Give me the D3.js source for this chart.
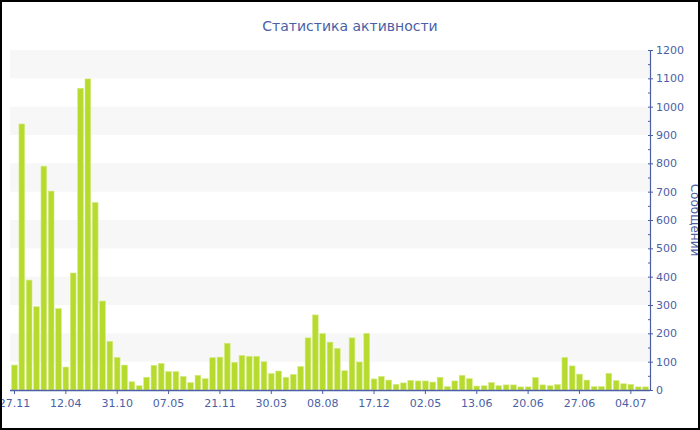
<!DOCTYPE html>
<html><head><meta charset="utf-8">
<script src="https://cdn.jsdelivr.net/npm/d3@7"></script>
<style>body{margin:0;background:#fff}svg{display:block;font-family:"DejaVu Sans",Verdana,sans-serif}</style>
</head><body>
<svg id="c" width="700" height="430"></svg>
<script>
const titleText = "Статистика активности";
const yTitle = "Сообщений";
const values = [88,939,388,294,790,702,287,81,413,1065,1098,662,314,172,115,88,29,15,45,87,94,65,65,48,26,52,
  40,114,116,165,98,122,119,119,100,58,67,45,55,83,184,265,199,169,147,68,184,99,200,39,48,35,20,
  25,34,32,32,28,45,12,32,52,40,14,15,26,15,18,18,11,11,44,18,15,19,115,85,56,35,12,12,59,33,22,20,11,11];
const categories = d3.range(values.length);
const tickIdx = [0,7,14,21,28,35,42,49,56,63,70,77,84];
const tickLabels = ["27.11","12.04","31.10","07.05","21.11","30.03","08.08","17.12","02.05","13.06","20.06","27.06","04.07"];
const yTicks = [0,100,200,300,400,500,600,700,800,900,1000,1100,1200];
const yMinor = [50,150,250,350,450,550,650,750,850,950,1050,1150];

const svg = d3.select("#c");
const L = 10, R = 650, T = 50, B = 390;
const blue = "#4a5fa6";
const x = d3.scaleBand().domain(categories).range([L, R]).padding(0.22);
const y = d3.scaleLinear().domain([0, 1200]).range([B, T]);

// bands
const bands = d3.range(100, 1200, 200);
svg.selectAll("rect.band").data(bands).enter().append("rect")
  .attr("x", L).attr("width", R - L)
  .attr("y", d => y(d + 100)).attr("height", d => y(d) - y(d + 100))
  .attr("fill", "#f7f7f7");

// bars
svg.selectAll("rect.bar").data(values).enter().append("rect")
  .attr("x", (d, i) => x(categories[i])).attr("width", x.bandwidth())
  .attr("y", d => y(d)).attr("height", d => B - y(d))
  .attr("fill", "#b6da2e").attr("stroke", "#d5ec83").attr("stroke-width", 0.6);

// x axis
const xa = svg.append("g").attr("transform", `translate(0,${B})`)
  .call(d3.axisBottom(x).tickValues(tickIdx).tickFormat((d, i) => tickLabels[i]).tickSize(4).tickSizeOuter(0));
xa.select(".domain").attr("stroke", blue).attr("stroke-width", 1.5).attr("d", `M${L},0.5H${R}`);
xa.selectAll(".tick line").attr("stroke", blue);
xa.selectAll(".tick text").attr("fill", blue).attr("font-size", 11).attr("font-family", "DejaVu Sans").attr("dy", "0.95em");

// y axis right
const ya = svg.append("g").attr("transform", `translate(${R},0)`)
  .call(d3.axisRight(y).tickValues(yTicks).tickFormat(d3.format("d")).tickSize(3).tickSizeOuter(0).tickPadding(3));
ya.select(".domain").attr("stroke", blue).attr("stroke-width", 1.2);
ya.selectAll(".tick line").attr("stroke", blue).attr("x1", -2);
ya.selectAll(".tick text").attr("fill", blue).attr("font-size", 11).attr("font-family", "DejaVu Sans");
const ym = svg.append("g").attr("transform", `translate(${R},0)`)
  .call(d3.axisRight(y).tickValues(yMinor).tickSize(-2).tickFormat(""));
ym.select(".domain").remove();
ym.selectAll(".tick line").attr("stroke", blue);

// title
svg.append("text").attr("x", 350).attr("y", 31).attr("text-anchor", "middle")
  .attr("fill", blue).attr("font-size", 14).text(titleText);
svg.append("text").attr("transform", `translate(691,${(T + B) / 2}) rotate(90)`)
  .attr("text-anchor", "middle").attr("fill", blue).attr("font-size", 12).text(yTitle);

// frame
svg.append("rect").attr("x", 1).attr("y", 1).attr("width", 698).attr("height", 428)
  .attr("fill", "none").attr("stroke", "#000").attr("stroke-width", 2);
</script>
</body></html>
